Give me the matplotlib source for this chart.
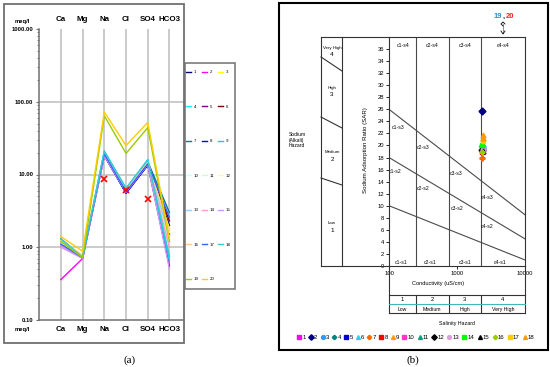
import matplotlib
matplotlib.use('Agg')
import matplotlib.pyplot as plt
import matplotlib.transforms as mtransforms
from matplotlib.patches import Rectangle
from matplotlib.ticker import LogLocator, NullFormatter

plt.rcParams['font.family'] = ['Liberation Sans', 'DejaVu Sans']

# ---------------- data: panel (a) Schoeller diagram ----------------
ions = ['Ca', 'Mg', 'Na', 'Cl', 'SO4', 'HCO3']
samples_a = [str(i) for i in range(1, 21)]
ca   = [1.15, 0.36, 1.25, 1.20, 1.05, 1.15, 1.30, 1.10, 1.20, 1.10,
        1.15, 1.20, 1.10, 1.05, 1.00, 1.25, 1.10, 1.30, 1.20, 1.40]
mg   = [0.72, 0.70, 0.75, 0.72, 0.72, 0.73, 0.74, 0.71, 0.72, 0.73,
        0.74, 0.75, 0.72, 0.71, 0.70, 0.78, 0.72, 0.73, 0.72, 0.88]
na   = [19.5, 18.5, 19.0, 20.5, 18.0, 19.0, 20.0, 18.5, 21.0, 19.0,
        19.5, 19.0, 18.8, 18.5, 18.2, 19.8, 19.2, 20.8, 64.0, 72.0]
cl   = [5.6, 5.8, 6.0, 6.3, 5.6, 5.9, 6.2, 5.5, 6.4, 6.0,
        6.1, 6.0, 5.9, 5.8, 5.7, 6.2, 5.8, 6.5, 19.5, 25.0]
so4  = [13.5, 14.0, 14.5, 15.5, 13.5, 14.0, 15.0, 13.5, 16.0, 14.5,
        14.8, 14.5, 14.2, 14.0, 13.8, 15.0, 14.0, 15.8, 44.0, 52.0]
hco3 = [2.0, 1.2, 1.8, 0.70, 0.55, 2.3, 3.0, 1.5, 0.65, 1.3,
        1.1, 1.6, 1.4, 1.0, 0.50, 1.7, 2.6, 0.75, 1.2, 1.3]
ref_ions = ['Na', 'Cl', 'SO4']
ref_vals = [8.7, 6.2, 4.6]
colors_a = ['#000080', '#FF00FF', '#FFFF00', '#00FFFF', '#800080', '#800000',
            '#008080', '#0000FF', '#00CCFF', '#CCFFFF', '#CCFFCC', '#FFFF99',
            '#99CCFF', '#FF99CC', '#CC99FF', '#FFCC99', '#3366FF', '#33CCCC',
            '#99CC00', '#FFCC00']
yticks_a = [0.1, 1, 10, 100, 1000]
yticklabels_a = ['0.10', '1.00', '10.00', '100.00', '1000.00']

# ---------------- data: panel (b) Wilcox/USSL diagram ----------------
samples_b = [str(i) for i in range(1, 19)]
ec  = [2400, 2330, 2380, 2350, 2360, 2400, 2330, 2300, 2420,
       2450, 2380, 2350, 2400, 2350, 2380, 2360, 2420, 2400]
sar = [19.4, 25.7, 19.8, 19.9, 19.6, 20.0, 18.0, 18.9, 21.8,
       19.3, 19.5, 19.2, 19.3, 20.1, 19.1, 19.0, 20.8, 21.3]
markers_b = ['s', 'D', 'o', 'P', 's', '^', 'P', 's', '^',
             's', '^', 'D', 'o', 's', '^', 'P', 's', '^']
colors_b = ['#FF00FF', '#000080', '#3399FF', '#008080', '#0000CC', '#33CCFF',
            '#FF6600', '#FF0000', '#FF9900', '#FF33CC', '#00A080', '#000000',
            '#DDA0DD', '#00FF00', '#000000', '#99CC00', '#FFCC00', '#FF9900']
ec_bounds = [250, 750, 2250]
ec_range = [100, 10000]
sar_line_start = [26, 18, 10]
sar_line_end = [8.5, 4.5, 1.0]
salinity_classes = ['1', '2', '3', '4']
salinity_names = ['Low', 'Medium', 'High', 'Very High']
region_labels = ['c1-s4', 'c2-s4', 'c3-s4', 'c4-s4',
                 'c1-s3', 'c2-s3', 'c3-s3',
                 'c1-s2', 'c2-s2', 'c3-s2', 'c4-s3', 'c4-s2',
                 'c1-s1', 'c2-s1', 'c3-s1', 'c4-s1']
region_x = [161, 428, 1312, 4745, 136, 316, 966, 122, 316, 1000, 2760, 2760,
            150, 400, 1312, 4290]
region_y = [36.6, 36.6, 36.6, 36.6, 22.9, 19.6, 15.3, 15.6, 12.9, 9.6, 11.4, 6.5,
            0.66, 0.66, 0.66, 0.66]

# ---------------- figure ----------------
W, H = 550, 367
fig = plt.figure(figsize=(5.5, 3.67), dpi=100)


def fx(px):
    return px / W


def fy(py):
    return 1 - py / H


# ---------- panel (a) ----------
axA = fig.add_axes([fx(39), fy(320), fx(184) - fx(39), fy(29) - fy(320)])
xpos = list(range(1, len(ions) + 1))
data_a = list(zip(ca, mg, na, cl, so4, hco3))
handles_a = []
for i, vals in enumerate(data_a):
    ln, = axA.plot(xpos, vals, color=colors_a[i], lw=1.0, label=samples_a[i], zorder=3)
    handles_a.append(ln)
ref_x = [ions.index(k) + 1 for k in ref_ions]
axA.plot(ref_x, ref_vals, 'x', color='#FF0000', ms=4.5, mew=1.2, zorder=10)

axA.set_yscale('log')
axA.set_ylim(0.1, 1000)
axA.set_xlim(-0.01, 6.67)
for v in [1, 10, 100]:
    axA.axhline(v, color='#bdbdbd', lw=1.1, zorder=1)
for x in xpos:
    axA.axvline(x, color='#bdbdbd', lw=1.1, zorder=1)
axA.set_xticks(xpos)
axA.set_xticklabels(ions, fontsize=5.7, fontweight='bold')
axA.tick_params(axis='x', length=0, labeltop=True, pad=4)
axA.set_yticks(yticks_a)
axA.set_yticklabels(yticklabels_a, fontsize=4.2, fontweight='bold')
axA.yaxis.set_minor_locator(LogLocator(base=10, subs=range(2, 10)))
axA.yaxis.set_minor_formatter(NullFormatter())
axA.tick_params(axis='y', which='major', length=2, color='#707070', pad=2)
axA.tick_params(axis='y', which='minor', length=1.5, color='#707070')
for s in ['top', 'right']:
    axA.spines[s].set_visible(False)
for s in ['left', 'bottom']:
    axA.spines[s].set_color('#707070')
    axA.spines[s].set_linewidth(1.1)

fig.text(fx(22), fy(21), 'meq/l', fontsize=4.2, fontweight='bold', ha='center', va='center')
fig.text(fx(22), fy(330), 'meq/l', fontsize=4.2, fontweight='bold', ha='center', va='center')

# legend laid out row-wise (1 2 3 / 4 5 6 / ...): reorder for column filling
ncol_a = 3
order = [i for c in range(ncol_a) for i in range(c, len(handles_a), ncol_a)]
fig.legend([handles_a[i] for i in order], [samples_a[i] for i in order],
           ncol=ncol_a, loc='upper left',
           bbox_to_anchor=(fx(186), fy(70)), frameon=False, fontsize=3.2,
           labelspacing=6.85, handlelength=1.1, handletextpad=0.6,
           columnspacing=0.8, borderpad=0, borderaxespad=0)

# ---------- panel (b) ----------
axB = fig.add_axes([fx(389), fy(266), fx(525) - fx(389), fy(37) - fy(266)])
axB.set_xscale('log')
axB.set_xlim(ec_range)
axB.set_ylim(0, 38)
for b in ec_bounds:
    axB.axvline(b, color='#4a4a4a', lw=0.8, zorder=1)
for s0, s1 in zip(sar_line_start, sar_line_end):
    axB.plot(ec_range, [s0, s1], color='#4a4a4a', lw=0.8, zorder=1)
handles_b = []
for i in range(len(ec)):
    h, = axB.plot(ec[i], sar[i], linestyle='none', marker=markers_b[i],
                  color=colors_b[i], ms=3.5, mec=colors_b[i], zorder=5)
    handles_b.append(h)
for lab, x, y in zip(region_labels, region_x, region_y):
    axB.text(x, y, lab, fontsize=3.7, ha='center', va='center', zorder=2)

axB.set_yticks(range(0, 37, 2))
axB.tick_params(axis='y', labelsize=4.2, length=2, pad=1.5, width=0.6)
axB.set_xticks([100, 1000, 10000])
axB.set_xticklabels(['100', '1000', '10000'])
axB.xaxis.set_minor_locator(plt.NullLocator())
axB.tick_params(axis='x', labelsize=4.2, length=2, pad=1.5, width=0.6)
for s in axB.spines.values():
    s.set_linewidth(0.8)
    s.set_color('#333333')

# salinity table below the axes (x in data, y in axes fraction)
trans = mtransforms.blended_transform_factory(axB.transData, axB.transAxes)
y_top, y_mid, y_bot = -0.1266, -0.166, -0.2052
for xv in ec_range:
    axB.plot([xv, xv], [0, y_bot], transform=trans, color='#333333', lw=0.8, clip_on=False)
for xv in ec_bounds:
    axB.plot([xv, xv], [y_top, y_bot], transform=trans, color='#333333', lw=0.8, clip_on=False)
axB.plot(ec_range, [y_top, y_top], transform=trans, color='#333333', lw=0.8, clip_on=False)
axB.plot(ec_range, [y_bot, y_bot], transform=trans, color='#333333', lw=0.8, clip_on=False)
axB.plot(ec_range, [y_mid, y_mid], transform=trans, color='#40B8B8', lw=0.8, clip_on=False)
edges = [ec_range[0]] + ec_bounds + [ec_range[1]]
for k in range(4):
    xc = (edges[k] * edges[k + 1]) ** 0.5
    axB.text(xc, -0.147, salinity_classes[k], transform=trans, fontsize=4.2,
             ha='center', va='center')
    axB.text(xc, -0.188, salinity_names[k], transform=trans, fontsize=3.7,
             ha='center', va='center')

fig.text(fx(438), fy(283), 'Conductivity (uS/cm)', fontsize=4.1, ha='center', va='center')
fig.text(fx(457), fy(324), 'Salinity Hazard', fontsize=3.8, ha='center', va='center')
fig.text(fx(365), fy(150), 'Sodium Adsorption Ratio (SAR)', fontsize=4.4,
         rotation=90, ha='center', va='center')
fig.text(fx(289), fy(140), 'Sodium\n(Alkali)\nHazard', fontsize=3.6,
         ha='left', va='center', linespacing=1.15)
haz = [('Very High', '4', 48), ('High', '3', 88), ('Medium', '2', 152), ('Low', '1', 223)]
for name, num, yy in haz:
    fig.text(fx(332), fy(yy), name, fontsize=3.2, ha='center', va='center')
    fig.text(fx(332), fy(yy + 7), num, fontsize=4.6, ha='center', va='center')

fig.legend(handles_b, samples_b, ncol=18, loc='center',
           bbox_to_anchor=(fx(416), fy(337)), frameon=False, fontsize=4.3,
           handlelength=0.6, handletextpad=0.25, columnspacing=0.55,
           markerscale=0.8, borderpad=0, borderaxespad=0)

# ---------- overlay for frames ----------
ov = fig.add_axes([0, 0, 1, 1])
ov.set_xlim(0, W)
ov.set_ylim(H, 0)
ov.axis('off')
ov.patch.set_visible(False)
ov.set_zorder(10)
ov.add_patch(Rectangle((4, 4), 180, 339, fill=False, ec='#707070', lw=1.3))
ov.add_patch(Rectangle((185, 63), 50, 226, fill=False, ec='#707070', lw=1.1))
ov.add_patch(Rectangle((279, 3), 269, 347, fill=False, ec='#000000', lw=1.5))
lk = dict(color='#333333', lw=0.8)
ov.plot([321, 389], [37, 37], **lk)
ov.plot([321, 389], [266, 266], **lk)
ov.plot([321, 321], [37, 266], **lk)
ov.plot([342, 342], [37, 266], **lk)
ov.plot([321, 342], [57, 71], **lk)
ov.plot([321, 342], [117, 128], **lk)
ov.plot([321, 342], [178, 185], **lk)

ov.text(502, 16, '19', color='#2A8FD0', fontsize=5.5, fontweight='bold', ha='right', va='center')
ov.text(503.5, 16, ',', color='black', fontsize=5.5, fontweight='bold', ha='center', va='center')
ov.text(506, 16, '20', color='#FF2020', fontsize=5.5, fontweight='bold', ha='left', va='center')
ov.plot([503, 503], [24, 33], color='black', lw=0.6, ls=(0, (1.2, 1.2)))
ov.plot([503, 501, 503, 505], [26, 24, 22, 24], color='black', lw=0.6)
ov.plot([501, 503, 505], [31, 34, 31], color='black', lw=0.6)

fig.text(fx(130), fy(360), '(a)', fontsize=8, family='Liberation Serif', ha='center', va='center')
fig.text(fx(413), fy(360), '(b)', fontsize=8, family='Liberation Serif', ha='center', va='center')

fig.savefig('out.png', dpi=100)
